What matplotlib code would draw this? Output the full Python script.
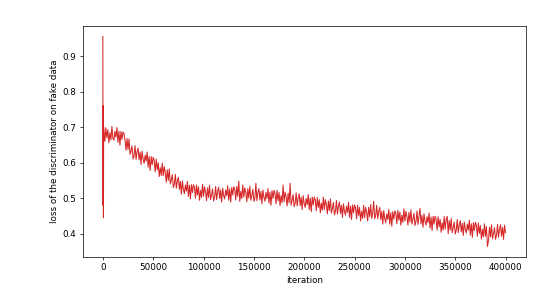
import numpy as np
import matplotlib
matplotlib.use("Agg")
import matplotlib.pyplot as plt

# early spike (first ~1000 iterations)
early_iter = [0, 200, 400, 600, 800]
early_loss = [0.955, 0.48, 0.76, 0.445, 0.70]

# loss every 1000 iterations from 1000 to 400000
loss = [
    0.690, 0.660, 0.698, 0.670, 0.693, 0.656, 0.684, 0.664, 0.702, 0.668,
    0.663, 0.688, 0.672, 0.699, 0.657, 0.688, 0.649, 0.688, 0.665, 0.686,
    0.682, 0.664, 0.635, 0.668, 0.637, 0.667, 0.623, 0.633, 0.647, 0.610,
    0.619, 0.648, 0.609, 0.631, 0.641, 0.608, 0.630, 0.595, 0.632, 0.610,
    0.598, 0.621, 0.604, 0.630, 0.587, 0.617, 0.578, 0.617, 0.594, 0.615,
    0.606, 0.574, 0.610, 0.580, 0.600, 0.561, 0.586, 0.564, 0.599, 0.563,
    0.589, 0.572, 0.545, 0.580, 0.550, 0.582, 0.540, 0.551, 0.566, 0.530,
    0.539, 0.567, 0.528, 0.549, 0.559, 0.525, 0.547, 0.511, 0.548, 0.525,
    0.513, 0.537, 0.520, 0.547, 0.505, 0.536, 0.498, 0.538, 0.516, 0.538,
    0.530, 0.500, 0.537, 0.509, 0.532, 0.494, 0.522, 0.502, 0.539, 0.505,
    0.532, 0.518, 0.493, 0.529, 0.502, 0.536, 0.496, 0.509, 0.526, 0.492,
    0.503, 0.533, 0.496, 0.519, 0.531, 0.499, 0.523, 0.489, 0.528, 0.507,
    0.498, 0.523, 0.507, 0.535, 0.494, 0.526, 0.489, 0.530, 0.509, 0.532,
    0.525, 0.495, 0.533, 0.505, 0.548, 0.491, 0.519, 0.499, 0.537, 0.503,
    0.529, 0.515, 0.490, 0.527, 0.500, 0.534, 0.494, 0.508, 0.525, 0.491,
    0.500, 0.542, 0.493, 0.515, 0.527, 0.495, 0.519, 0.484, 0.523, 0.502,
    0.491, 0.516, 0.499, 0.527, 0.486, 0.517, 0.480, 0.521, 0.499, 0.522,
    0.514, 0.484, 0.522, 0.493, 0.516, 0.479, 0.507, 0.487, 0.537, 0.490,
    0.517, 0.503, 0.478, 0.514, 0.487, 0.542, 0.480, 0.494, 0.510, 0.476,
    0.486, 0.515, 0.478, 0.500, 0.512, 0.479, 0.503, 0.468, 0.507, 0.485,
    0.474, 0.499, 0.482, 0.510, 0.468, 0.500, 0.462, 0.503, 0.481, 0.503,
    0.495, 0.465, 0.502, 0.474, 0.496, 0.459, 0.486, 0.466, 0.503, 0.468,
    0.496, 0.481, 0.456, 0.492, 0.465, 0.498, 0.458, 0.471, 0.488, 0.453,
    0.463, 0.493, 0.455, 0.478, 0.489, 0.457, 0.480, 0.446, 0.484, 0.463,
    0.452, 0.477, 0.460, 0.488, 0.446, 0.478, 0.440, 0.481, 0.459, 0.481,
    0.473, 0.442, 0.480, 0.451, 0.474, 0.436, 0.463, 0.443, 0.480, 0.445,
    0.474, 0.461, 0.436, 0.474, 0.448, 0.482, 0.443, 0.458, 0.491, 0.442,
    0.452, 0.480, 0.442, 0.463, 0.474, 0.440, 0.463, 0.427, 0.465, 0.442,
    0.431, 0.456, 0.440, 0.468, 0.427, 0.459, 0.421, 0.462, 0.441, 0.464,
    0.458, 0.428, 0.466, 0.438, 0.461, 0.424, 0.452, 0.432, 0.470, 0.436,
    0.463, 0.449, 0.424, 0.460, 0.433, 0.467, 0.427, 0.441, 0.457, 0.423,
    0.434, 0.464, 0.426, 0.449, 0.471, 0.428, 0.452, 0.418, 0.456, 0.435,
    0.424, 0.448, 0.431, 0.458, 0.416, 0.447, 0.409, 0.449, 0.427, 0.449,
    0.441, 0.410, 0.448, 0.419, 0.441, 0.404, 0.431, 0.410, 0.448, 0.413,
    0.440, 0.449, 0.400, 0.437, 0.410, 0.443, 0.403, 0.417, 0.433, 0.399,
    0.410, 0.440, 0.403, 0.425, 0.437, 0.405, 0.429, 0.395, 0.433, 0.412,
    0.402, 0.427, 0.410, 0.438, 0.396, 0.428, 0.390, 0.431, 0.409, 0.432,
    0.424, 0.393, 0.430, 0.401, 0.423, 0.385, 0.412, 0.391, 0.428, 0.393,
    0.420, 0.364, 0.381, 0.418, 0.391, 0.425, 0.386, 0.400, 0.417, 0.384,
    0.396, 0.426, 0.390, 0.413, 0.425, 0.393, 0.418, 0.384, 0.424, 0.403,
]
iterations = list(early_iter) + list(range(1000, 1000 * (len(loss) + 1), 1000))
values = list(early_loss) + loss

DPI = 63
fig = plt.figure(figsize=(549.01 / DPI, 307.01 / DPI), dpi=DPI)
ax = fig.add_axes([82.7 / 549, 1 - 257 / 307, (525.7 - 82.7) / 549, (257 - 26) / 307])
ax.plot(iterations, values, color="#d62728", linewidth=1.2)
ax.set_xlabel("iteration")
ax.set_ylabel("loss of the discriminator on fake data")
fig.savefig("out.png", dpi=DPI)
